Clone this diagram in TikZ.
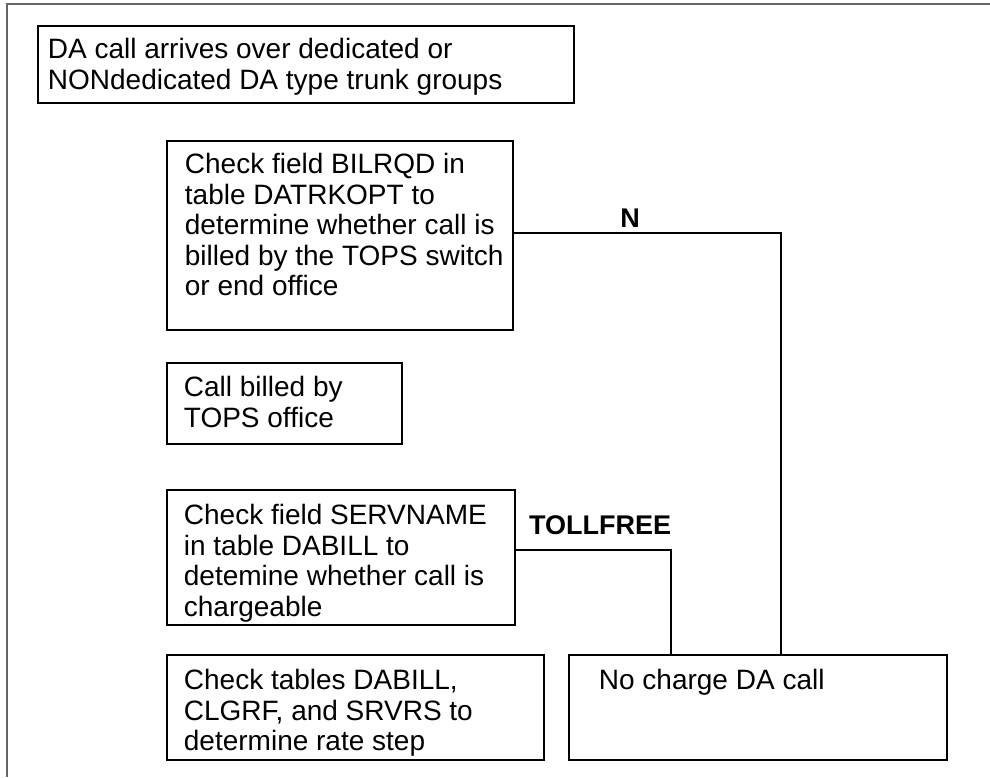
\documentclass[tikz,border=0pt]{standalone}
\usepackage{fontspec}
\setmainfont{Liberation Sans}
\newcommand{\boxtxt}[5]{\parbox[t][#2][t]{#1}{\raggedright\leftskip=#3\relax\vspace*{#4}\rule{0pt}{21pt}#5}}
\begin{document}
\begin{tikzpicture}[x=1pt,y=-1pt,
  box/.style={draw, line width=1.8pt, inner sep=0pt, anchor=north west, font=\fontsize{28pt}{30.5pt}\selectfont},
  conn/.style={draw, line width=1.8pt},
  lbl/.style={font=\fontsize{27pt}{30pt}\selectfont\bfseries, inner sep=0pt, anchor=base},
  frame/.style={draw=black!60, line width=2pt}]
\useasboundingbox (0,0) rectangle (990,777);
\draw[frame] (7,777) -- (7,4) -- (990,4);
\node[box] (b1) at (37,25) {\boxtxt{536pt}{77pt}{10pt}{12pt}{DA call arrives over dedicated or\\NONdedicated DA type trunk groups}};
\node[box] (b2) at (166,140) {\boxtxt{346pt}{189pt}{18pt}{12pt}{Check field BILRQD in\\table DATRKOPT to\\determine whether call is\\billed by the TOPS switch\\or end office}};
\node[box] (b3) at (166,362) {\boxtxt{235pt}{81pt}{17pt}{13pt}{Call billed by\\TOPS office}};
\node[box] (b4) at (166,489) {\boxtxt{348pt}{135pt}{17pt}{14pt}{Check field SERVNAME\\in table DABILL to\\detemine whether call is\\chargeable}};
\node[box] (b5) at (166,654) {\boxtxt{377pt}{105pt}{17pt}{14pt}{Check tables DABILL,\\CLGRF, and SRVRS to\\determine rate step}};
\node[box] (b6) at (568,654) {\boxtxt{378pt}{105pt}{30pt}{14pt}{No charge DA call}};
\node[lbl] (lN) at (630,227) {N};
\node[lbl] (lT) at (600,534) {TOLLFREE};
\coordinate (nEnd) at (781,654);
\coordinate (tEnd) at (671,654);
\draw[conn] ([yshift=2.5pt]b2.east) -| (nEnd);
\draw[conn] ([yshift=7.5pt]b4.east) -| (tEnd);
\end{tikzpicture}
\end{document}
